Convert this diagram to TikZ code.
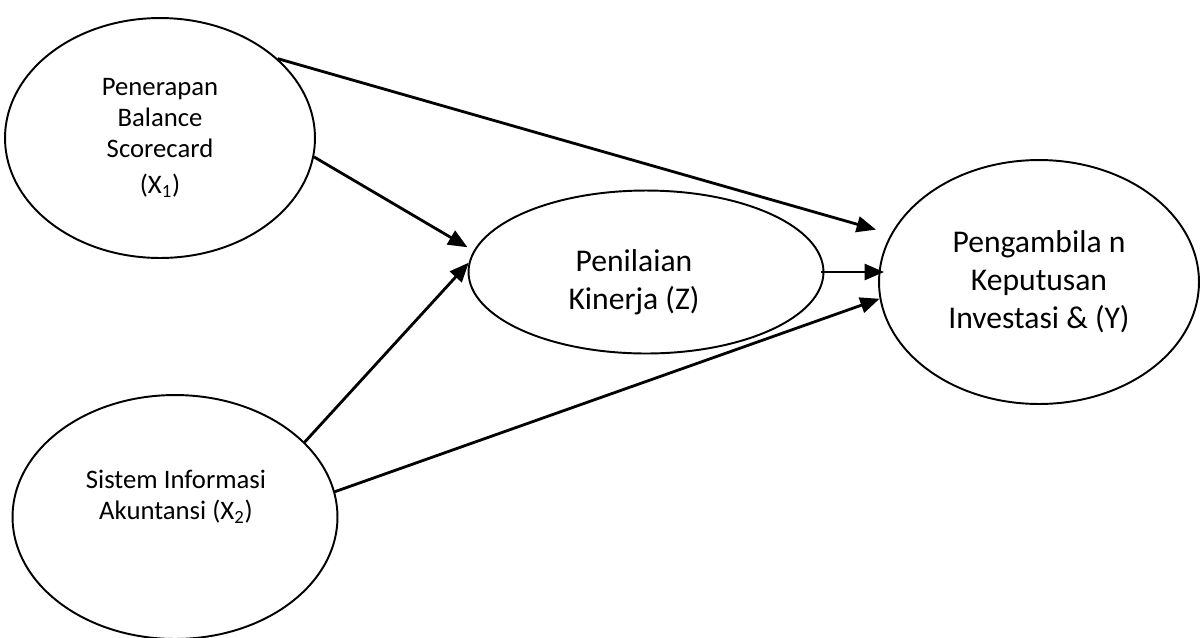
\documentclass[tikz,border=0pt]{standalone}
\usepackage{fontspec}
\setmainfont{Carlito}
\usetikzlibrary{arrows.meta}
\usetikzlibrary{shapes.geometric}
\tikzset{
    variabel/.style = {ellipse, draw, line width=1.1pt, inner sep=0pt, align=center},
    kecil/.style = {font=\fontsize{15.2}{17.6}\selectfont, align=center},
    besar/.style = {font=\fontsize{18}{21.6}\selectfont, align=center},
    panah/.style = {-{Triangle[length=11pt, width=9pt]}, line width=1.6pt},
    >=Latex
}
\begin{document}
\begin{tikzpicture}[x=0.02cm, y=-0.02cm]
                \useasboundingbox (0,0) rectangle (1201,637);
                \node[variabel, kecil, minimum width=6.2cm, minimum height=4.8cm] (X1) at (160,138) {Penerapan\\Balance\\Scorecard\\[3pt](X\textsubscript{1})};
                \node[variabel, minimum width=6.5cm, minimum height=4.88cm] (X2) at (175,517) {};
                \node[kecil] (X2txt) at (176,497) {Sistem Informasi\\Akuntansi (X\textsubscript{2})};
                \node[variabel, minimum width=7.1cm, minimum height=3.26cm] (Z) at (646,272) {};
                \node[besar] (Ztxt) at (634,282) {Penilaian\\Kinerja (Z)};
                \node[variabel, besar, minimum width=6.4cm, minimum height=4.88cm] (Y) at (1039,282) {Pengambila n\\Keputusan\\Investasi \& (Y)};
                \draw[panah, shorten >=0.31cm] (X1.34) -- (Y.162);
                \draw[panah, shorten >=0.14cm] (X1.-7) -- (Z.173);
                \draw[panah] (X2.30) -- (Z.177);
                \draw[panah] (X2.9) -- (Y.186);
                \draw[panah, shorten <=-0.06cm, shorten >=-0.12cm] (Z.east) -- (Z.east -| Y.west);
            \end{tikzpicture}
\end{document}
